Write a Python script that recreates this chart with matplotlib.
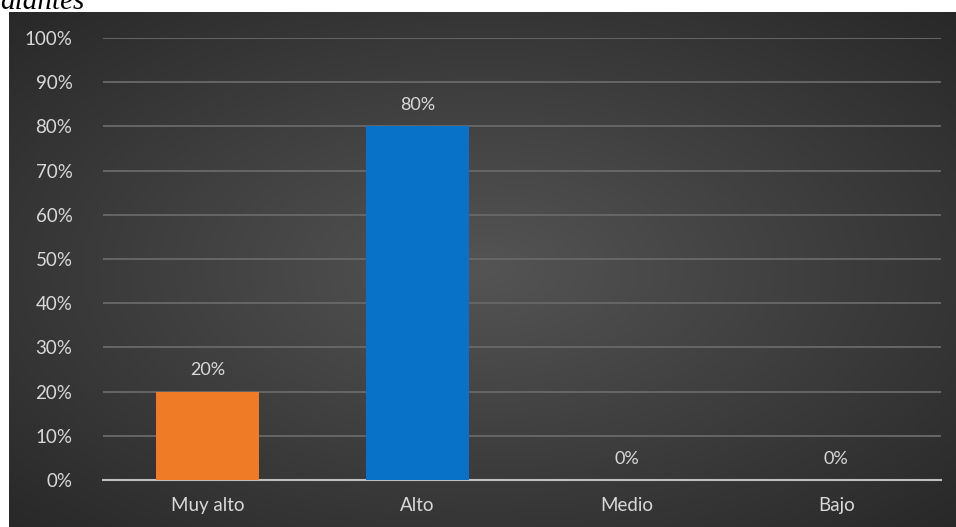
import matplotlib.pyplot as plt
import numpy as np

categories = ["Muy alto", "Alto", "Medio", "Bajo"]
values = [20, 80, 0, 0]
colors = ["#f07b26", "#0872c8"]
yticks = list(range(0, 101, 10))

plt.rcParams["font.family"] = ["Lato", "DejaVu Sans"]

fig = plt.figure(figsize=(9.56, 5.27), dpi=100)
fig.patch.set_facecolor("white")

# dark panel with radial gradient
bg = fig.add_axes([9 / 956, 0, 1 - 9 / 956, 1 - 12 / 527])
yy, xx = np.mgrid[-1:1:300j, -1:1:500j]
r = np.sqrt(xx ** 2 + yy ** 2)
shade = 0.33 - 0.17 * np.clip(r / 1.4, 0, 1)
bg.imshow(np.dstack([shade, shade, shade]), aspect="auto", extent=[0, 1, 0, 1])
bg.axis("off")

# caption cut off by the top edge, as in the source
fig.text(0.0, 1 - 9 / 527, "diantes", family="Liberation Serif", style="italic",
         fontsize=21, color="black", ha="left", va="baseline")

ax = fig.add_axes([103 / 956, 1 - 480 / 527, 838 / 956, (480 - 38) / 527])
ax.set_facecolor("none")
x = np.arange(len(categories))
bars = ax.bar(x[:2], values[:2], width=0.49, color=colors, zorder=3)
for xi, v in zip(x, values):
    ax.text(xi, v + 3, f"{v}%", ha="center", va="bottom", color="#d9d9d9", fontsize=13, zorder=4)

ax.set_xlim(-0.5, 3.5)
ax.set_ylim(0, 100)
ax.set_yticks(yticks)
ax.set_yticklabels([f"{t}%" for t in yticks])
ax.set_xticks(x)
ax.set_xticklabels(categories)
ax.tick_params(axis="both", length=0, colors="#d9d9d9", labelsize=13.5)
ax.tick_params(axis="y", pad=22)
ax.tick_params(axis="x", pad=12)
ax.grid(axis="y", color="#666666", linewidth=1.4, zorder=0)
for s in ["top", "right", "left"]:
    ax.spines[s].set_visible(False)
ax.spines["bottom"].set_color("#bfbfbf")
ax.spines["bottom"].set_linewidth(1.5)

fig.savefig("out.png", dpi=100)
